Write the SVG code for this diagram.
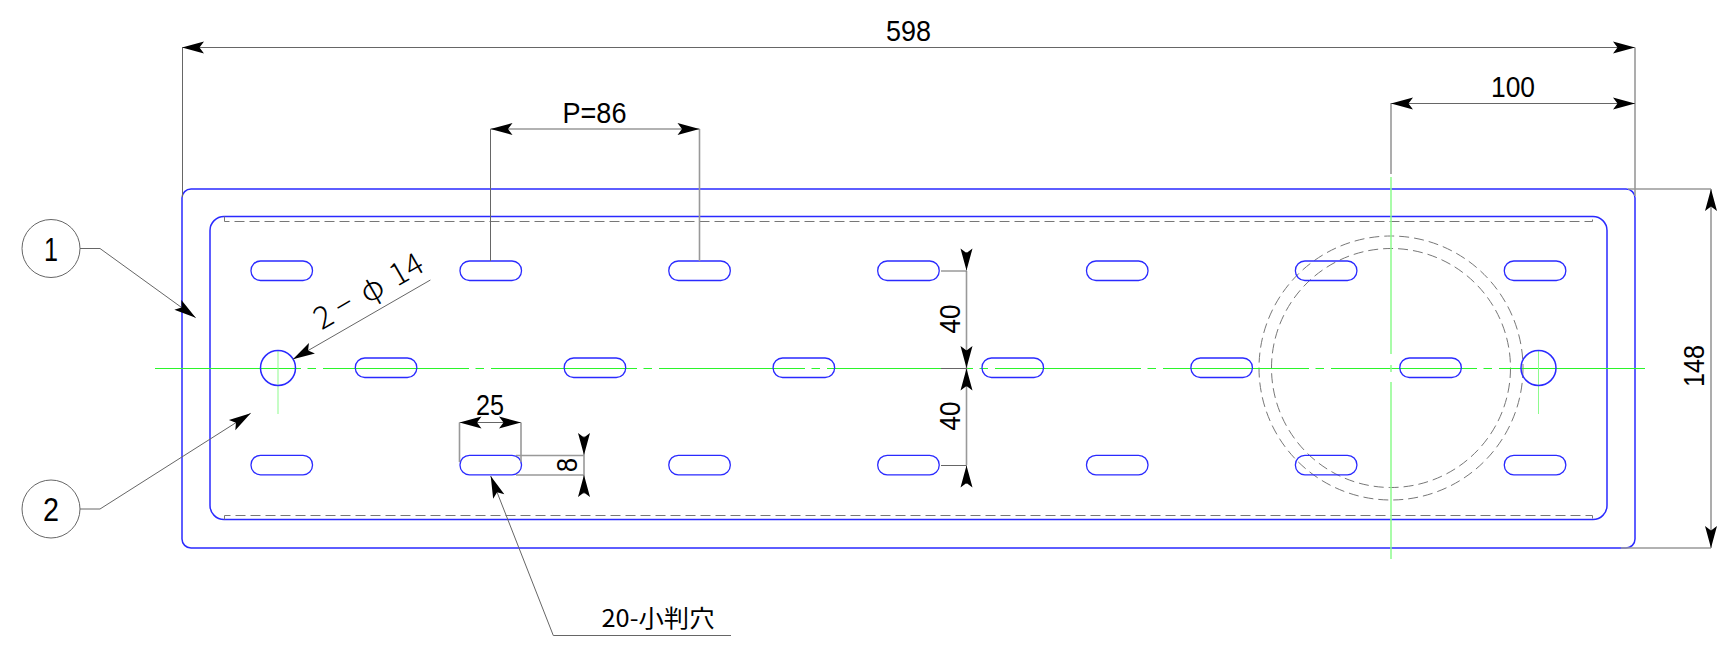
<svg xmlns="http://www.w3.org/2000/svg" width="1728" height="645" viewBox="0 0 1728 645">
<defs>
<marker id="ah" markerUnits="userSpaceOnUse" markerWidth="24" markerHeight="14" refX="22" refY="7" orient="auto-start-reverse" overflow="visible"><path d="M22,7 L0,1 L4.5,7 L0,13Z" fill="#000"/></marker>
</defs>
<style>
.bg{fill:#fff}
.pl{fill:none;stroke:#2a2aff;stroke-width:1.5}
.slot{fill:none;stroke:#2a2aff;stroke-width:1.3}
.hid{fill:none;stroke:#777;stroke-width:1;stroke-dasharray:10 5}
.cl{fill:none;stroke:#2bf52b;stroke-width:1}
.clv{fill:none;stroke:#8dfb8d;stroke-width:1.5}
.dim{fill:none;stroke:#666;stroke-width:1}
.dimw{fill:none;stroke:#999;stroke-width:1.6}
.arr{marker-end:url(#ah)}
.arr2{marker-start:url(#ah);marker-end:url(#ah)}
.bal{fill:#fff;stroke:#666;stroke-width:1}
text{font-family:"Liberation Sans","Noto Sans CJK JP",sans-serif;font-size:29px;fill:#000;text-anchor:middle}
</style>
<rect class="bg" width="1728" height="645"/>
<g id="plate">
<rect class="pl" x="182" y="189" width="1453" height="359" rx="9"/>
<rect class="pl" x="210" y="216.5" width="1397" height="303" rx="14"/>
<path class="hid" d="M224.5,216.5V221.5H1592.5V216.5M224.5,519.5V515.5H1592.5V519.5"/>
<circle class="hid" cx="1391" cy="368" r="132"/>
<circle class="hid" cx="1391" cy="368" r="119.5"/>
</g>
<g id="centerlines">
<path class="cl" d="M155,368.5H1647" stroke-dasharray="146 6.5 8.5 7"/>
<path class="clv" d="M1391,177V354M1391,365V372M1391,382V559"/>
<path class="clv" style="stroke-width:1" d="M278,350V414M1538.5,350V414"/>
</g>
<g id="holes">
<circle class="pl" cx="278" cy="368" r="17.5"/>
<circle class="pl" cx="1538.5" cy="368" r="17.5"/>
</g>
<g id="slots">
<rect class="slot" x="251" y="261" width="61.5" height="19.5" rx="9.5"/>
<rect class="slot" x="460" y="261" width="61.5" height="19.5" rx="9.5"/>
<rect class="slot" x="668.800" y="261" width="61.5" height="19.5" rx="9.5"/>
<rect class="slot" x="877.700" y="261" width="61.5" height="19.5" rx="9.5"/>
<rect class="slot" x="1086.500" y="261" width="61.5" height="19.5" rx="9.5"/>
<rect class="slot" x="1295.400" y="261" width="61.5" height="19.5" rx="9.5"/>
<rect class="slot" x="1504.300" y="261" width="61.5" height="19.5" rx="9.5"/>
<rect class="slot" x="355.300" y="358" width="61.5" height="19.5" rx="9.5"/>
<rect class="slot" x="564.200" y="358" width="61.5" height="19.5" rx="9.5"/>
<rect class="slot" x="773.100" y="358" width="61.5" height="19.5" rx="9.5"/>
<rect class="slot" x="982" y="358" width="61.5" height="19.5" rx="9.5"/>
<rect class="slot" x="1190.900" y="358" width="61.5" height="19.5" rx="9.5"/>
<rect class="slot" x="1399.800" y="358" width="61.5" height="19.5" rx="9.5"/>
<rect class="slot" x="251" y="455.300" width="61.5" height="19.5" rx="9.5"/>
<rect class="slot" x="460" y="455.300" width="61.5" height="19.5" rx="9.5"/>
<rect class="slot" x="668.800" y="455.300" width="61.5" height="19.5" rx="9.5"/>
<rect class="slot" x="877.700" y="455.300" width="61.5" height="19.5" rx="9.5"/>
<rect class="slot" x="1086.500" y="455.300" width="61.5" height="19.5" rx="9.5"/>
<rect class="slot" x="1295.400" y="455.300" width="61.5" height="19.5" rx="9.5"/>
<rect class="slot" x="1504.300" y="455.300" width="61.5" height="19.5" rx="9.5"/>
</g>
<g id="connectors">
<path class="dim arr2" d="M182,47.500H1635"/>
<path class="dim" d="M182.500,47.500V197M490.500,129V261"/>
<path class="dimw" d="M699.500,129V261M1635,47.500V196M1391,103V174M1628,189H1711M1621,548H1711"/>
<path class="dimw arr2" d="M490.500,129H699.500"/>
<path class="dim arr2" d="M1391,103.500H1635"/>
<path class="dimw arr2" d="M1711,189V548"/>
<path class="dim arr2" d="M459.500,422.500H521"/>
<path class="dimw" d="M459.500,422.500V462M521,422.500V462M516,455.500H584M516,475H584M584,455V475"/>
<path class="dim arr" d="M584,436V455"/>
<path class="dim arr" d="M584,494V475"/>
<path class="dimw" d="M966.500,271V465"/>
<path class="dim" d="M941,271H966.500M941,368.500H966.500M941,465.500H966.500"/>
<path class="dim arr" d="M966.500,252V270.500"/>
<path class="dim arr" d="M966.500,350V368"/>
<path class="dim arr" d="M966.500,387V368.500"/>
<path class="dim arr" d="M966.500,484V465.500"/>
<path class="dim arr" d="M80,248.500H100L195.700,317.700"/>
<path class="dim arr" d="M80,509H100L250.700,413.300"/>
<path class="dim arr" d="M430.400,280L292.900,359.300"/>
<path class="dim arr" d="M731,635.500H553.300L490.700,476"/>
</g>
<g id="balloon-1"><circle class="bal" cx="51" cy="248.500" r="29"/><text x="51" y="261" style="font-size:33px" textLength="14" lengthAdjust="spacingAndGlyphs">1</text></g>
<g id="balloon-2"><circle class="bal" cx="51" cy="509" r="29"/><text x="51" y="521" style="font-size:33px" textLength="16" lengthAdjust="spacingAndGlyphs">2</text></g>
<g id="labels">
<text x="908.500" y="41" textLength="45" lengthAdjust="spacingAndGlyphs">598</text>
<text x="594.500" y="122.500" textLength="64" lengthAdjust="spacingAndGlyphs">P=86</text>
<text x="1513" y="96.500" textLength="44" lengthAdjust="spacingAndGlyphs">100</text>
<text x="490" y="415" textLength="28" lengthAdjust="spacingAndGlyphs">25</text>
<text transform="translate(577,465) rotate(-90)" textLength="14" lengthAdjust="spacingAndGlyphs">8</text>
<text transform="translate(960,319) rotate(-90)" textLength="29" lengthAdjust="spacingAndGlyphs">40</text>
<text transform="translate(960,416) rotate(-90)" textLength="29" lengthAdjust="spacingAndGlyphs">40</text>
<text transform="translate(1704,366) rotate(-90)" textLength="42" lengthAdjust="spacingAndGlyphs">148</text>
<text transform="translate(328.500,326.500) rotate(-30)" x="-8 16 45 60 79 96" style="text-anchor:start;font-size:31px;font-family:'Noto Sans CJK JP','Liberation Sans',sans-serif;font-weight:300">2−φ 14</text>
<text x="658" y="627" textLength="113" lengthAdjust="spacingAndGlyphs" style="font-size:24px;font-family:'Noto Sans CJK JP','Liberation Sans',sans-serif">20-小判穴</text>
</g>
</svg>
